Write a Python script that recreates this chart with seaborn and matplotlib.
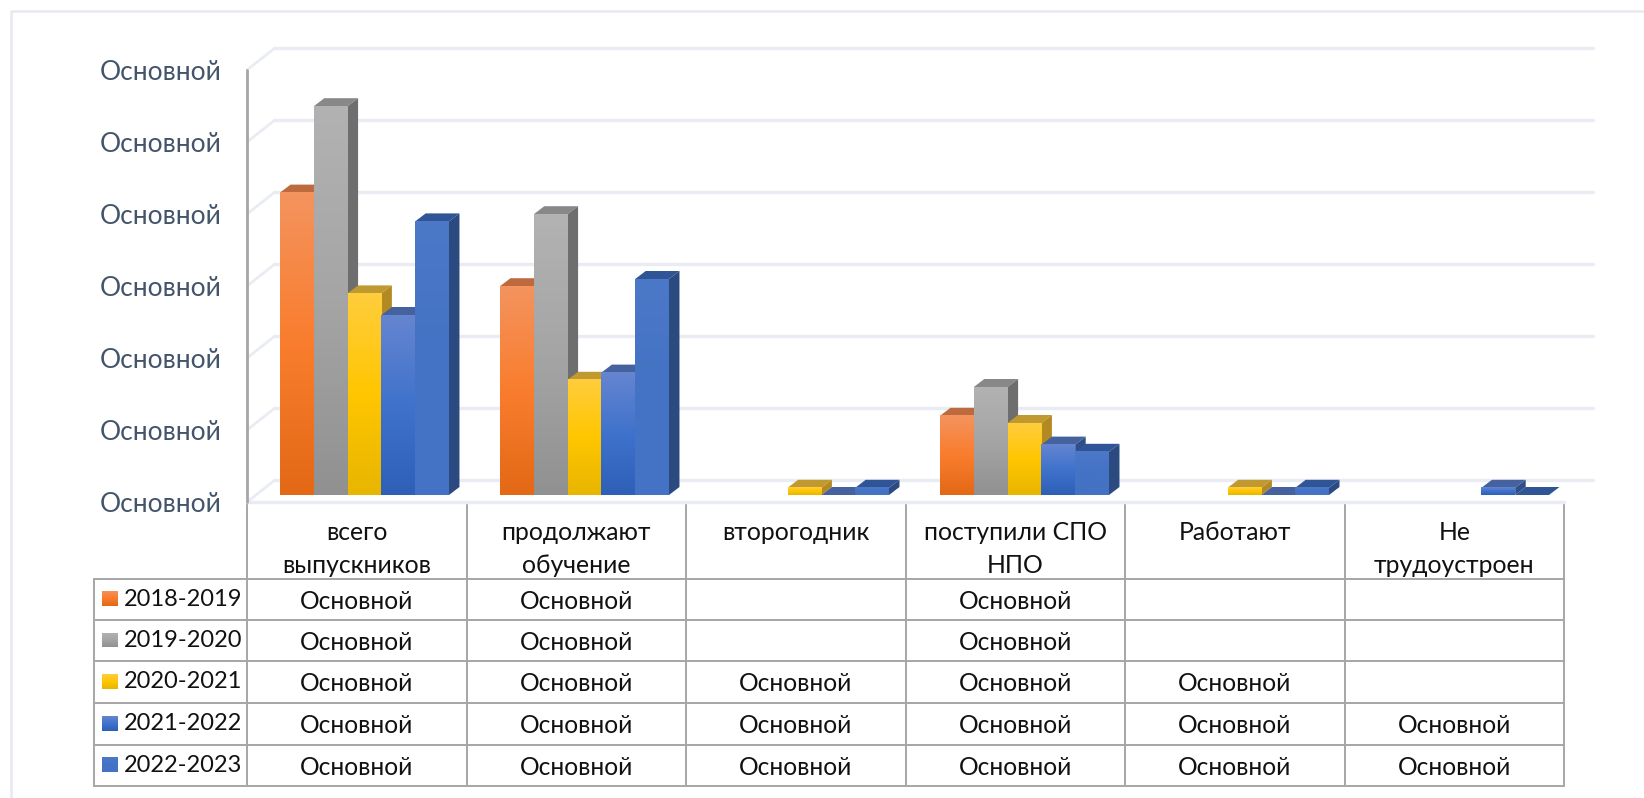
import numpy as np
import pandas as pd
import matplotlib
matplotlib.use("Agg")
import matplotlib.pyplot as plt
from matplotlib.colors import LinearSegmentedColormap
from matplotlib.patches import Polygon
import seaborn as sns

sns.set_style("white")
plt.rcParams['font.family'] = ['Lato', 'Open Sans', 'DejaVu Sans']

categories = ['всего\nвыпускников', 'продолжают\nобучение', 'второгодник',
              'поступили СПО\nНПО', 'Работают', 'Не\nтрудоустроен']
years = ['2018-2019', '2019-2020', '2020-2021', '2021-2022', '2022-2023']
y2018 = [42, 29, np.nan, 11, np.nan, np.nan]
y2019 = [54, 39, np.nan, 15, np.nan, np.nan]
y2020 = [28, 16, 1, 10, 1, np.nan]
y2021 = [25, 17, 0, 7, 0, 1]
y2022 = [38, 30, 1, 6, 1, 0]
series = [y2018, y2019, y2020, y2021, y2022]
cell_label = 'Основной'

# front gradient top -> bottom, then top face and side face
front_cols = [['#F4935E', '#F97D2D', '#E36916'],
              ['#B2B2B2', '#A5A5A5', '#919191'],
              ['#FFCD3C', '#FFC600', '#E8B600'],
              ['#6585D0', '#3F72CC', '#2E60B8'],
              ['#4C78C8', '#4472C4', '#4472C4']]
top_cols = ['#BC6A3E', '#888888', '#C09A30', '#45629F', '#2F5597']
side_cols = ['#B05A28', '#6E6E6E', '#B38A22', '#2E4F8A', '#2A4A80']
W, H = 1644, 798

df = pd.DataFrame({'category': np.tile(categories, len(years)),
                   'year': np.repeat(years, len(categories)),
                   'value': np.concatenate(series)})

fig = plt.figure(figsize=(W / 100, H / 100), dpi=100, facecolor='white')


def px_axes(x0, x1, y0, y1):
    return fig.add_axes([x0 / W, 1 - y1 / H, (x1 - x0) / W, (y1 - y0) / H])


# page layer in pixels: frame and table
page = fig.add_axes([0, 0, 1, 1], zorder=0)
page.set_xlim(0, W)
page.set_ylim(H, 0)
page.axis('off')
page.plot([10.5, 10.5, W], [H, 10.5, 10.5], color='#E6E9F0', lw=1.8)

# chart: px per unit is fixed so that a 10 step equals 72 px
ax = px_axes(247, 1593, 48, 502)
ax.patch.set_alpha(0)
ax.set_zorder(2)
sns.barplot(data=df, x='category', y='value', hue='year', order=categories,
            hue_order=years, width=0.768, gap=0, legend=False, ax=ax)
ax.set_xlim(-0.534, 5.584)
ax.set_ylim(-7 / 7.2, 447 / 7.2)
ax.set_xlabel('')
ax.set_ylabel('')
ax.set_xticks([])
sns.despine(ax=ax, left=True, bottom=True)

dx = 10.5 / 220
dy = 8 / 7.2
floor = 7 / 7.2
back = 15 / 7.2
grid_levels = np.arange(0, 70, 10)

ax.set_yticks(grid_levels - floor)
ax.set_yticklabels([cell_label] * len(grid_levels), fontsize=19, color='#44546A')
ax.tick_params(axis='y', length=0, pad=18.5)

x_left, x_right = ax.get_xlim()
x_back = x_left + 28 / 220
x_front_end = x_left + (1563.5 - 247) / 220
for g in grid_levels:
    ax.plot([x_left, x_back], [g - floor, g + back], color='#E9ECF2', lw=2, zorder=1, clip_on=False)
    ax.plot([x_back, x_right], [g + back, g + back], color='#E9ECF2', lw=2.4, zorder=1, clip_on=False)
ax.plot([x_left, x_front_end], [-floor, -floor], color='#E9ECF2', lw=2.5, zorder=1, clip_on=False)
ax.plot([x_left, x_left], [-floor, 60 - floor], color='#A6A6A6', lw=2, zorder=1.5, clip_on=False)

# seaborn's containers give the front faces, the 3D sides hang off them
for i, cont in enumerate(ax.containers):
    cmap = LinearSegmentedColormap.from_list('f', front_cols[i])
    for j, bar in enumerate(cont):
        h = bar.get_height()
        bar.set_visible(False)
        if not np.isfinite(h):
            continue
        x0, x1 = bar.get_x(), bar.get_x() + bar.get_width()
        z = 3 + j * 10 + i
        ax.add_patch(Polygon([(x0, h), (x1, h), (x1 + dx, h + dy), (x0 + dx, h + dy)],
                             fc=top_cols[i], ec='none', zorder=z))
        ax.add_patch(Polygon([(x1, 0), (x1 + dx, dy), (x1 + dx, h + dy), (x1, h)],
                             fc=side_cols[i], ec='none', zorder=z))
        if h > 0:
            ax.imshow(np.linspace(0, 1, 64).reshape(-1, 1), cmap=cmap, aspect='auto',
                      extent=(x0, x1, 0, h), zorder=z + 0.5, interpolation='bilinear')
ax.set_xlim(x_left, x_right)
ax.set_ylim(-7 / 7.2, 447 / 7.2)

# table under the chart
col_x = 247 + 219.5 * np.arange(len(categories) + 1)
row_y = [578.7, 620, 661, 702.7, 744.7, 785.5]
line_c = '#A6A6A6'
for x in col_x:
    page.plot([x, x], [502, row_y[-1]], color=line_c, lw=1.4)
page.plot([93.5, 93.5], [row_y[0], row_y[-1]], color=line_c, lw=1.4)
for y in row_y:
    page.plot([93.5, col_x[-1]], [y, y], color=line_c, lw=1.4)

for j, cat in enumerate(categories):
    page.text((col_x[j] + col_x[j + 1]) / 2, 521, cat, ha='center', va='top', fontsize=17.8,
              color='#111111', linespacing=1.55)
for i, (yr, vals) in enumerate(zip(years, series)):
    yc = (row_y[i] + row_y[i + 1]) / 2
    page.text(124, yc, yr, ha='left', va='center', fontsize=17, color='#111111')
    sw = px_axes(102, 118, yc - 8, yc + 7)
    sw.imshow(np.linspace(0, 1, 32).reshape(-1, 1), cmap=LinearSegmentedColormap.from_list('s', front_cols[i]),
              aspect='auto', interpolation='bilinear')
    sw.axis('off')
    for j, v in enumerate(vals):
        if np.isfinite(v):
            page.text((col_x[j] + col_x[j + 1]) / 2, yc + 2, cell_label, ha='center', va='center',
                      fontsize=17.7, color='#111111')

fig.savefig('out.png', dpi=100)
